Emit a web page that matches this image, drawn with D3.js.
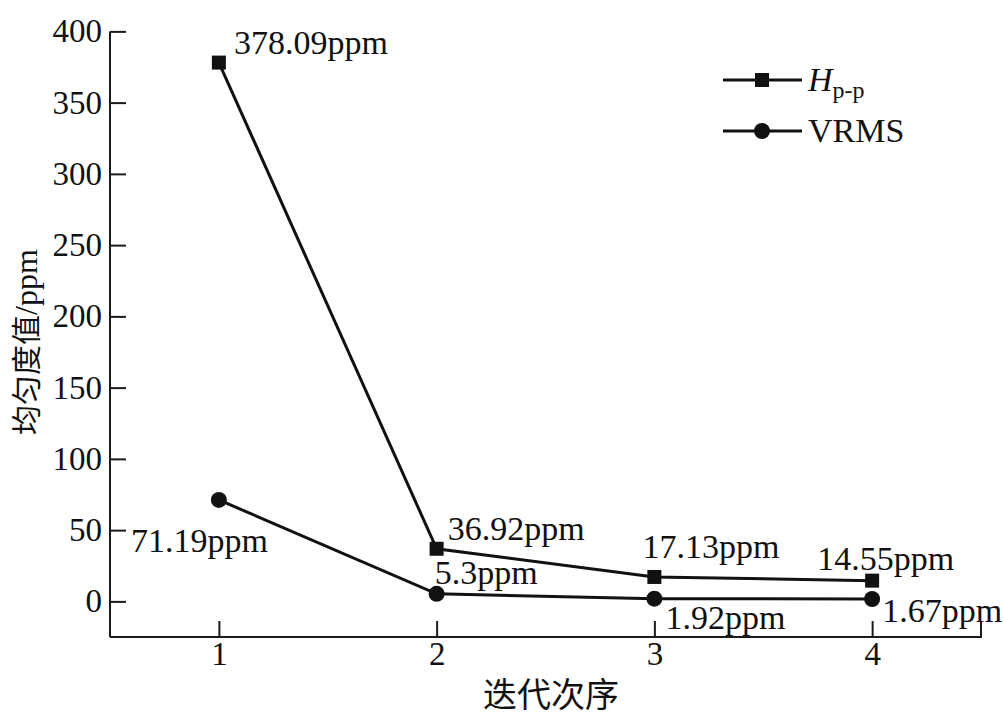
<!DOCTYPE html>
<html><head><meta charset="utf-8">
<script src="https://cdn.jsdelivr.net/npm/d3@7/dist/d3.min.js"></script>
<style>body{margin:0;background:#fff}svg{display:block}</style>
</head><body>
<svg id="c" width="1004" height="724"></svg>
<script>
const iterations = [1, 2, 3, 4];
const hppValues = [378.09, 36.92, 17.13, 14.55];
const vrmsValues = [71.19, 5.3, 1.92, 1.67];
const hppLabels = ["378.09ppm", "36.92ppm", "17.13ppm", "14.55ppm"];
const vrmsLabels = ["71.19ppm", "5.3ppm", "1.92ppm", "1.67ppm"];
const yTicks = [0, 50, 100, 150, 200, 250, 300, 350, 400];
const xTicks = [1, 2, 3, 4];

const svg = d3.select("#c");
const serif = "'Liberation Serif','Times New Roman',serif";
const cjk = "'Noto Sans CJK SC',sans-serif";
const L = 110, R = 981, T = 31, B = 637;
const x = d3.scaleLinear().domain([0.5, 4.5]).range([L, R]);
const y = d3.scaleLinear().domain([-25, 400]).range([B, B - 425 * (570 / 400)]);

// axes
const yAxis = d3.axisLeft(y).tickValues(yTicks).tickSize(-16).tickPadding(8).tickFormat(d3.format("d"));
const gy = svg.append("g").attr("transform", `translate(${L},0)`).call(yAxis);
gy.select(".domain").attr("d", `M0,${B}V${y(400)}`);
const xAxis = d3.axisBottom(x).tickValues(xTicks).tickSize(-16).tickPadding(5).tickFormat(d3.format("d"));
const gx = svg.append("g").attr("transform", `translate(0,${B})`).call(xAxis);
gx.select(".domain").attr("d", `M${L},0H${R}V-16`);
[gy, gx].forEach(g => {
  g.selectAll("path,line").attr("stroke", "#1a1a1a").attr("stroke-width", 2);
  g.selectAll("text").attr("font-family", serif).attr("font-size", 33).attr("fill", "#111");
});

// lines
const line = d3.line().x((d, i) => x(iterations[i])).y(d => y(d));
[hppValues, vrmsValues].forEach(vals => {
  svg.append("path").attr("d", line(vals)).attr("fill", "none")
    .attr("stroke", "#111").attr("stroke-width", 3);
});
svg.selectAll(".sq").data(hppValues).join("rect")
  .attr("x", (d, i) => x(iterations[i]) - 7).attr("y", d => y(d) - 7)
  .attr("width", 14).attr("height", 14).attr("fill", "#111");
svg.selectAll(".ci").data(vrmsValues).join("circle")
  .attr("cx", (d, i) => x(iterations[i])).attr("cy", d => y(d))
  .attr("r", 8).attr("fill", "#111");

// annotations (offsets from data point)
const hppOff = [[15, -9], [11, -9], [-12, -19], [-55, -11]];
const vrmsOff = [[-88, 52], [-2, -10], [11, 30], [10, 23]];
const annot = (vals, labels, offs) => {
  svg.append("g").selectAll("text").data(vals).join("text")
    .attr("x", (d, i) => x(iterations[i]) + offs[i][0])
    .attr("y", (d, i) => y(d) + offs[i][1])
    .attr("font-family", serif).attr("font-size", 34).attr("fill", "#111")
    .text((d, i) => labels[i]);
};
annot(hppValues, hppLabels, hppOff);
annot(vrmsValues, vrmsLabels, vrmsOff);

// axis titles
svg.append("text").attr("x", 551).attr("y", 707).attr("text-anchor", "middle")
  .attr("font-family", cjk).attr("font-size", 34).attr("fill", "#111").text("迭代次序");
const yt = svg.append("text").attr("transform", "translate(37,342) rotate(-90)").attr("text-anchor", "middle")
  .attr("font-family", cjk).attr("font-size", 30).attr("fill", "#111");
yt.append("tspan").text("均匀度值");
yt.append("tspan").attr("font-family", serif).attr("font-size", 32).text("/ppm");

// legend
const lg = svg.append("g");
[[80, "sq"], [131, "ci"]].forEach(([ly, t]) => {
  lg.append("line").attr("x1", 723).attr("x2", 802).attr("y1", ly).attr("y2", ly)
    .attr("stroke", "#111").attr("stroke-width", 3);
  if (t === "sq") lg.append("rect").attr("x", 755).attr("y", ly - 7).attr("width", 14).attr("height", 14).attr("fill", "#111");
  else lg.append("circle").attr("cx", 762).attr("cy", ly).attr("r", 8).attr("fill", "#111");
});
const t1 = lg.append("text").attr("x", 808).attr("y", 91).attr("font-family", serif).attr("font-size", 34).attr("fill", "#111");
t1.append("tspan").attr("font-style", "italic").text("H");
t1.append("tspan").attr("font-size", 24).attr("dy", 7).text("p-p");
lg.append("text").attr("x", 808).attr("y", 142).attr("font-family", serif).attr("font-size", 34).attr("fill", "#111").text("VRMS");
</script>
</body></html>
